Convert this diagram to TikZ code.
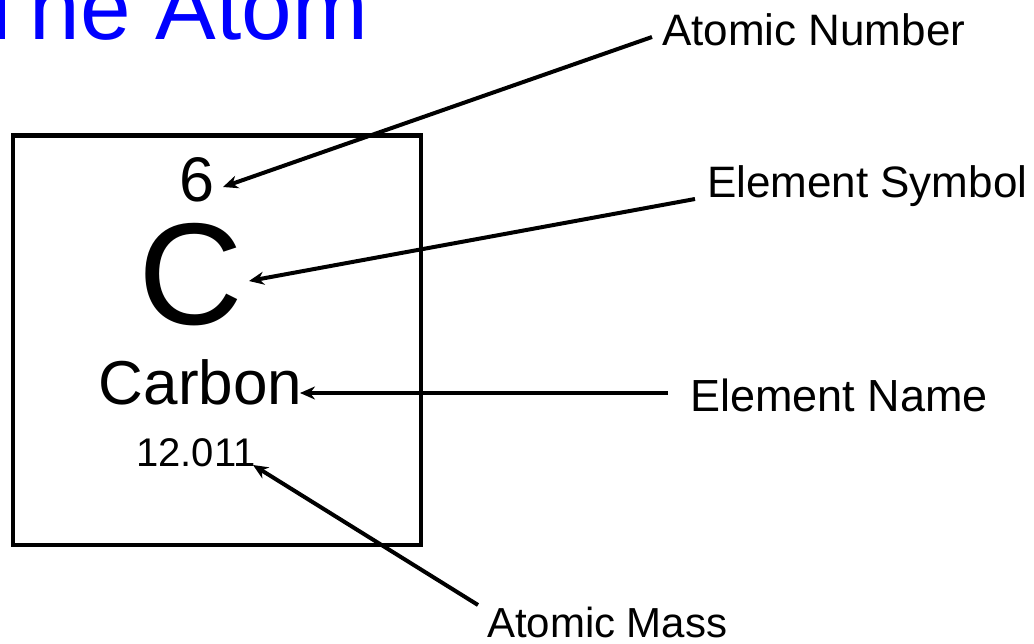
\documentclass[tikz,border=0pt]{standalone}
\usepackage{fontspec}
\setmainfont{Liberation Sans}
\usetikzlibrary{arrows.meta}
\definecolor{titleblue}{RGB}{0,0,255}
\newcommand{\fs}[1]{\fontsize{#1pt}{#1pt}\selectfont}
\begin{document}
\begin{tikzpicture}[x=1pt,y=-1pt,
  lbl/.style={inner sep=0pt,outer sep=0pt,anchor=base west,font=\fs{44}},
  ptr/.style={line width=4pt,-{Stealth[length=15pt,width=13pt]}},
  cell/.style={draw,line width=4.6pt}]
\useasboundingbox (0,0) rectangle (1034,644);
\clip (0,0) rectangle (1034,644);
\node[lbl,text=titleblue,font=\fs{91}] (title) at (-26,40) {The Atom};
\node[cell,minimum width=408pt,minimum height=409pt,inner sep=0pt,anchor=north west] (box) at (10.5,133.5) {};
\node[inner sep=0pt,anchor=base,font=\fs{63}] (six) at (197.5,202) {6};
\node[inner sep=0pt,anchor=base,font=\fs{145}] (sym) at (191,325) {C};
\node[inner sep=0pt,anchor=base,font=\fs{62}] (name) at (200.5,405) {Carbon};
\node[inner sep=0pt,anchor=base west,font=\fs{40}] (mass) at (136,466) {12.011};
\node[lbl] (anum) at (662,46) {Atomic Number};
\node[lbl] (esym) at (707,198) {Element Symbol};
\node[lbl,font=\fs{45}] (ename) at (690,411) {Element Name};
\node[lbl,font=\fs{42}] (amass) at (487,637) {Atomic Mass};
\coordinate (t1) at (223,187);
\coordinate (t2) at (249,281);
\coordinate (t3) at (300,393);
\coordinate (t4) at (253,465);
\draw[ptr] ([shift={(-10,-9)}]anum.base west) -- (t1);
\draw[ptr] ([shift={(-12,1)}]esym.base west) -- (t2);
\draw[ptr] ([shift={(-22,-18)}]ename.base west) -- (t3);
\draw[ptr] ([shift={(-9,-32)}]amass.base west) -- (t4);
\end{tikzpicture}
\end{document}
